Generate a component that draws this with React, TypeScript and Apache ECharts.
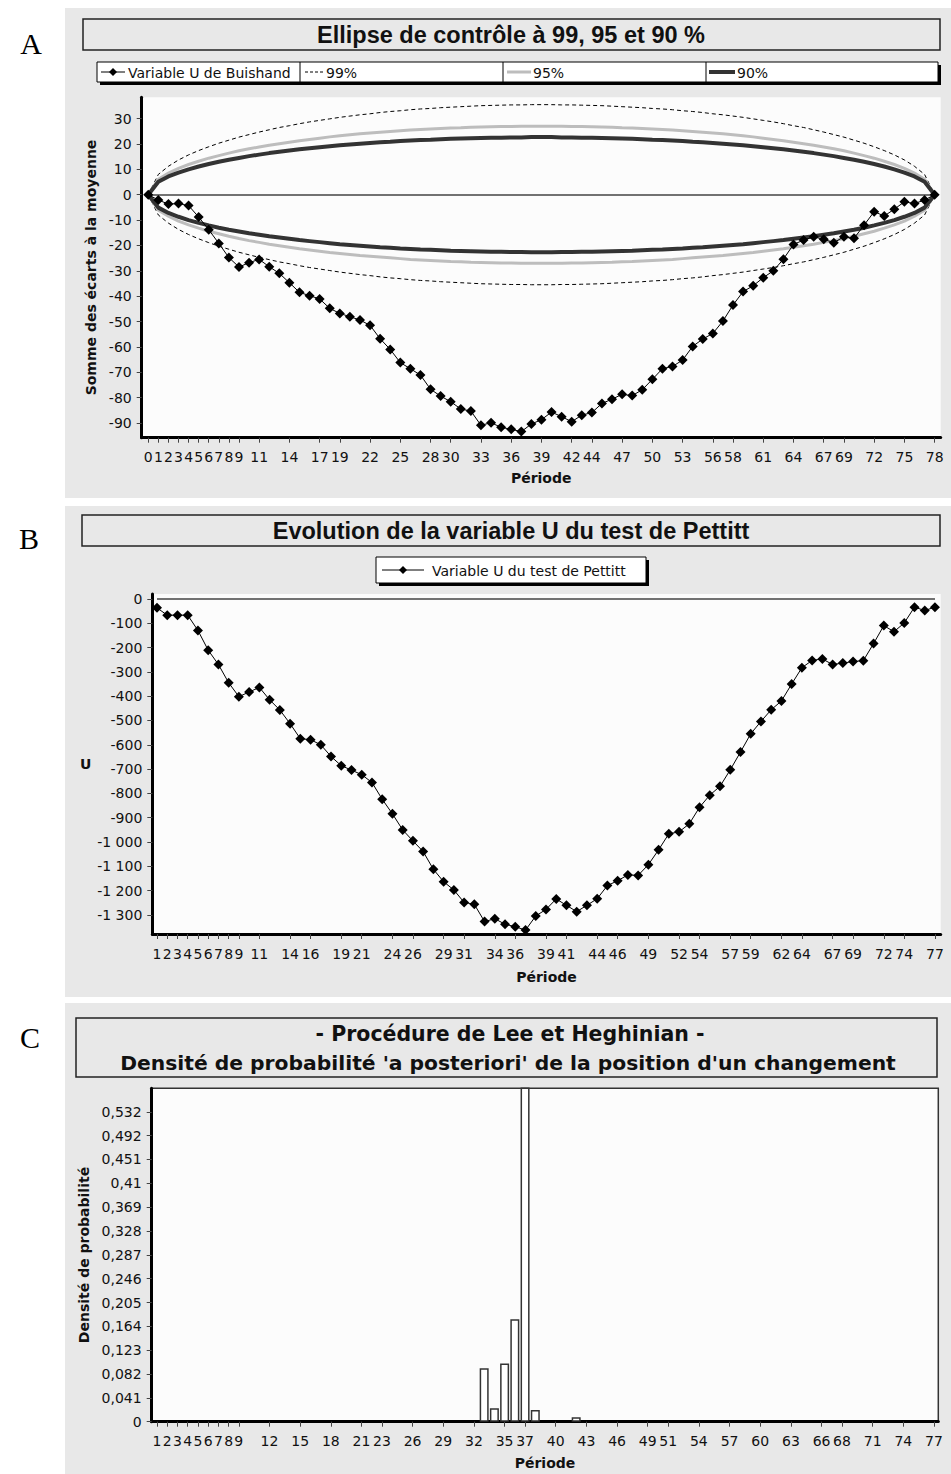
import React, { useEffect, useRef } from "react";
import * as echarts from "echarts";

// ---------- Panel A : Buishand ----------
const periodsA = [0,1,2,3,4,5,6,7,8,9,10,11,12,13,14,15,16,17,18,19,20,21,22,23,24,25,26,27,28,29,30,31,32,33,34,35,36,37,38,39,40,41,42,43,44,45,46,47,48,49,50,51,52,53,54,55,56,57,58,59,60,61,62,63,64,65,66,67,68,69,70,71,72,73,74,75,76,77,78];
const buishandU = [0,-2.1,-3.7,-3.5,-4.3,-8.8,-13.8,-19.2,-24.8,-28.5,-26.8,-25.5,-28.4,-31.0,-34.7,-38.5,-39.8,-41.1,-44.8,-46.8,-48.1,-49.4,-51.5,-56.8,-61.0,-66.2,-68.6,-71.1,-76.7,-79.4,-81.6,-84.5,-85.3,-90.9,-89.9,-91.7,-92.5,-93.4,-90.4,-88.7,-85.7,-87.5,-89.5,-86.9,-85.9,-82.3,-80.6,-78.7,-79.2,-76.9,-72.8,-68.6,-67.7,-65.2,-59.8,-56.9,-54.7,-49.8,-43.5,-38.2,-35.9,-32.7,-30.0,-25.4,-19.6,-17.9,-16.6,-17.6,-18.9,-16.6,-17.2,-12.0,-6.7,-8.4,-5.7,-2.8,-3.5,-2.1,0];
const ellipse99 = [0,8.0,11.2,13.7,15.7,17.4,18.9,20.3,21.5,22.7,23.7,24.7,25.6,26.5,27.2,28.0,28.7,29.3,29.9,30.5,31.0,31.5,31.9,32.4,32.8,33.1,33.5,33.8,34.0,34.3,34.5,34.7,34.9,35.1,35.2,35.3,35.4,35.4,35.5,35.5,35.5,35.4,35.4,35.3,35.2,35.1,34.9,34.7,34.5,34.3,34.0,33.8,33.5,33.1,32.8,32.4,31.9,31.5,31.0,30.5,29.9,29.3,28.7,28.0,27.2,26.5,25.6,24.7,23.7,22.7,21.5,20.3,18.9,17.4,15.7,13.7,11.2,8.0,0];
const ellipse95 = [0,6.1,8.5,10.4,11.9,13.2,14.4,15.4,16.4,17.3,18.1,18.8,19.5,20.1,20.7,21.3,21.8,22.3,22.8,23.2,23.6,24.0,24.3,24.6,24.9,25.2,25.5,25.7,25.9,26.1,26.3,26.4,26.6,26.7,26.8,26.9,26.9,27.0,27.0,27.0,27.0,27.0,26.9,26.9,26.8,26.7,26.6,26.4,26.3,26.1,25.9,25.7,25.5,25.2,24.9,24.6,24.3,24.0,23.6,23.2,22.8,22.3,21.8,21.3,20.7,20.1,19.5,18.8,18.1,17.3,16.4,15.4,14.4,13.2,11.9,10.4,8.5,6.1,0];
const ellipse90 = [0,5.1,7.2,8.7,10.0,11.1,12.1,13.0,13.8,14.5,15.2,15.8,16.4,16.9,17.4,17.9,18.3,18.7,19.1,19.5,19.8,20.1,20.4,20.7,20.9,21.2,21.4,21.6,21.7,21.9,22.1,22.2,22.3,22.4,22.5,22.5,22.6,22.6,22.7,22.7,22.7,22.6,22.6,22.5,22.5,22.4,22.3,22.2,22.1,21.9,21.7,21.6,21.4,21.2,20.9,20.7,20.4,20.1,19.8,19.5,19.1,18.7,18.3,17.9,17.4,16.9,16.4,15.8,15.2,14.5,13.8,13.0,12.1,11.1,10.0,8.7,7.2,5.1,0];
const ticksXA = [0,1,2,3,4,5,6,7,8,9,11,14,17,19,22,25,28,30,33,36,39,42,44,47,50,53,56,58,61,64,67,69,72,75,78];
const ticksYA = [-90,-80,-70,-60,-50,-40,-30,-20,-10,0,10,20,30];

// ---------- Panel B : Pettitt ----------
const periodsB = [1,2,3,4,5,6,7,8,9,10,11,12,13,14,15,16,17,18,19,20,21,22,23,24,25,26,27,28,29,30,31,32,33,34,35,36,37,38,39,40,41,42,43,44,45,46,47,48,49,50,51,52,53,54,55,56,57,58,59,60,61,62,63,64,65,66,67,68,69,70,71,72,73,74,75,76,77];
const pettittU = [-37,-67,-67,-67,-130,-211,-270,-345,-402,-383,-364,-415,-457,-513,-575,-579,-600,-648,-686,-704,-723,-755,-824,-884,-950,-995,-1039,-1112,-1163,-1197,-1248,-1256,-1327,-1315,-1338,-1348,-1362,-1304,-1277,-1234,-1260,-1286,-1260,-1233,-1179,-1159,-1135,-1137,-1093,-1032,-966,-958,-925,-857,-807,-771,-703,-630,-555,-504,-456,-420,-350,-283,-253,-247,-270,-264,-258,-254,-184,-110,-135,-99,-34,-48,-34];
const ticksXB = [1,2,3,4,5,6,7,8,9,11,14,16,19,21,24,26,29,31,34,36,39,41,44,46,49,52,54,57,59,62,64,67,69,72,74,77];
const ticksYB = [-1300,-1200,-1100,-1000,-900,-800,-700,-600,-500,-400,-300,-200,-100,0];

// ---------- Panel C : Lee & Heghinian ----------
const leePeriods = [33,34,35,36,37,38,42];
const leeDensity = [0.092,0.023,0.100,0.176,0.582,0.020,0.0075];
const ticksXC = [1,2,3,4,5,6,7,8,9,12,15,18,21,23,26,29,32,35,37,40,43,46,49,51,54,57,60,63,66,68,71,74,77];
const ticksYC = [0,0.041,0.082,0.123,0.164,0.205,0.246,0.287,0.328,0.369,0.41,0.451,0.492,0.532];

const FONT = "DejaVu Sans";
const TITLE_FONT = "Liberation Sans";
const fmtThousands = (v: number) => {
  const s = Math.abs(v).toString().replace(/\B(?=(\d{3})+(?!\d))/g, " ");
  return (v < 0 ? "-" : "") + s;
};

function pairs(xs: number[], ys: number[]) {
  return xs.map((x, i) => [x, ys[i]]);
}

const tickLabel = { fontFamily: FONT, fontSize: 14, color: "#111" };
const nameStyle = { fontFamily: FONT, fontSize: 14, fontWeight: "bold" as const, color: "#111" };

function xAxisBase(gridIndex: number, min: number, max: number, ticks: number[], gap: number, margin: number) {
  return {
    type: "value",
    gridIndex,
    min,
    max,
    name: "Période",
    nameLocation: "middle",
    nameGap: gap,
    nameTextStyle: nameStyle,
    splitLine: { show: false },
    axisLine: { show: true, onZero: false, lineStyle: { color: "#000", width: 3 } },
    axisTick: { show: true, length: 5, customValues: ticks, lineStyle: { color: "#444", width: 1 } },
    axisLabel: { ...tickLabel, margin, customValues: ticks, hideOverlap: false },
  };
}

function diamond(cx: number, cy: number, r: number) {
  return {
    type: "polygon",
    z: 12,
    shape: { points: [[cx, cy - r], [cx + r, cy], [cx, cy + r], [cx - r, cy]] },
    style: { fill: "#000" },
  };
}

export default function App() {
  const ref = useRef<HTMLDivElement>(null);
  useEffect(() => {
    if (!ref.current) return;
    const chart = echarts.init(ref.current, null, { renderer: "svg" });

    const legendText = { fontFamily: FONT, fontSize: 14, fill: "#111", verticalAlign: "middle" };

    const graphics: any[] = [
      // panel backgrounds
      { type: "rect", z: -5, shape: { x: 65, y: 8, width: 886, height: 490 }, style: { fill: "#e8e8e8" } },
      { type: "rect", z: -5, shape: { x: 65, y: 506, width: 886, height: 491 }, style: { fill: "#e8e8e8" } },
      { type: "rect", z: -5, shape: { x: 65, y: 1003, width: 886, height: 471 }, style: { fill: "#e8e8e8" } },
      // panel letters
      { type: "text", z: 10, x: 31, y: 43, style: { text: "A", fontFamily: "Liberation Serif", fontSize: 30, fill: "#000", align: "center", verticalAlign: "middle" } },
      { type: "text", z: 10, x: 29, y: 538, style: { text: "B", fontFamily: "Liberation Serif", fontSize: 30, fill: "#000", align: "center", verticalAlign: "middle" } },
      { type: "text", z: 10, x: 30, y: 1037, style: { text: "C", fontFamily: "Liberation Serif", fontSize: 30, fill: "#000", align: "center", verticalAlign: "middle" } },
      // title boxes
      { type: "rect", z: 10, shape: { x: 83, y: 19, width: 857, height: 31 }, style: { fill: "#e8e8e8", stroke: "#222", lineWidth: 1.5 } },
      { type: "text", z: 11, x: 511, y: 35, style: { text: "Ellipse de contrôle à 99, 95 et 90 %", fontFamily: TITLE_FONT, fontSize: 23.5, fontWeight: "bold", fill: "#111", align: "center", verticalAlign: "middle" } },
      { type: "rect", z: 10, shape: { x: 82, y: 515, width: 858, height: 31 }, style: { fill: "#e8e8e8", stroke: "#222", lineWidth: 1.5 } },
      { type: "text", z: 11, x: 511, y: 531, style: { text: "Evolution de la variable U du test de Pettitt", fontFamily: TITLE_FONT, fontSize: 23.5, fontWeight: "bold", fill: "#111", align: "center", verticalAlign: "middle" } },
      { type: "rect", z: 10, shape: { x: 76, y: 1018, width: 861, height: 59 }, style: { fill: "#e8e8e8", stroke: "#222", lineWidth: 1.5 } },
      { type: "text", z: 11, x: 510, y: 1034, style: { text: "- Procédure de Lee et Heghinian -", fontFamily: "DejaVu Sans", fontSize: 20.5, fontWeight: "bold", fill: "#111", align: "center", verticalAlign: "middle" } },
      { type: "text", z: 11, x: 508, y: 1063, style: { text: "Densité de probabilité 'a posteriori' de la position d'un changement", fontFamily: "DejaVu Sans", fontSize: 20.3, fontWeight: "bold", fill: "#111", align: "center", verticalAlign: "middle" } },
      // legend A
      { type: "rect", z: 10, shape: { x: 100, y: 65, width: 841, height: 20 }, style: { fill: "#000" } },
      { type: "rect", z: 11, shape: { x: 97, y: 62, width: 841, height: 20 }, style: { fill: "#fff", stroke: "#000", lineWidth: 1 } },
      { type: "line", z: 12, shape: { x1: 300, y1: 62, x2: 300, y2: 82 }, style: { stroke: "#000", lineWidth: 1 } },
      { type: "line", z: 12, shape: { x1: 503, y1: 62, x2: 503, y2: 82 }, style: { stroke: "#000", lineWidth: 1 } },
      { type: "line", z: 12, shape: { x1: 706, y1: 62, x2: 706, y2: 82 }, style: { stroke: "#000", lineWidth: 1 } },
      { type: "line", z: 12, shape: { x1: 101, y1: 72, x2: 125, y2: 72 }, style: { stroke: "#000", lineWidth: 1 } },
      diamond(113, 72, 4),
      { type: "text", z: 12, x: 128, y: 72.5, style: { text: "Variable U de Buishand", ...legendText } },
      { type: "line", z: 12, shape: { x1: 305, y1: 72, x2: 324, y2: 72 }, style: { stroke: "#000", lineWidth: 1, lineDash: [3, 2] } },
      { type: "text", z: 12, x: 326, y: 72.5, style: { text: "99%", ...legendText } },
      { type: "line", z: 12, shape: { x1: 507, y1: 72, x2: 531, y2: 72 }, style: { stroke: "#bdbdbd", lineWidth: 3 } },
      { type: "text", z: 12, x: 533, y: 72.5, style: { text: "95%", ...legendText } },
      { type: "line", z: 12, shape: { x1: 709, y1: 72, x2: 735, y2: 72 }, style: { stroke: "#333", lineWidth: 4 } },
      { type: "text", z: 12, x: 737, y: 72.5, style: { text: "90%", ...legendText } },
      // legend B
      { type: "rect", z: 10, shape: { x: 379, y: 560, width: 270, height: 26 }, style: { fill: "#000" } },
      { type: "rect", z: 11, shape: { x: 376, y: 557, width: 270, height: 26 }, style: { fill: "#fff", stroke: "#000", lineWidth: 1 } },
      { type: "line", z: 12, shape: { x1: 382, y1: 570, x2: 424, y2: 570 }, style: { stroke: "#000", lineWidth: 1 } },
      diamond(403, 570, 4),
      { type: "text", z: 12, x: 432, y: 570.5, style: { text: "Variable U du test de Pettitt", ...legendText } },
    ];

    const zeroLine = (x0: number, x1: number) => ({
      silent: true,
      symbol: "none",
      label: { show: false },
      lineStyle: { color: "#444", width: 1.5, type: "solid" },
      data: [[{ coord: [x0, 0] }, { coord: [x1, 0] }]],
    });

    const ellipseSeries = (name: string, vals: number[], sign: number, style: any) => ({
      name,
      type: "line",
      xAxisIndex: 0,
      yAxisIndex: 0,
      showSymbol: false,
      symbol: "none",
      smooth: false,
      lineStyle: style,
      data: pairs(periodsA, vals.map((v) => sign * v)),
      z: 2,
    });

    const s99 = { color: "#000", width: 1, type: [4, 3] };
    const s95 = { color: "#bdbdbd", width: 3 };
    const s90 = { color: "#333", width: 4 };

    const option: any = {
      animation: false,
      backgroundColor: "#fff",
      graphic: graphics,
      grid: [
        { left: 141.7, top: 97.3, width: 799, height: 340.4, show: true, backgroundColor: "#fcfcfc", borderWidth: 0 },
        { left: 152.3, top: 594, width: 788.4, height: 340, show: true, backgroundColor: "#fcfcfc", borderWidth: 0 },
        { left: 151.7, top: 1088.3, width: 786.6, height: 333.4, show: true, backgroundColor: "#fcfcfc", borderColor: "#333", borderWidth: 1.5 },
      ],
      xAxis: [
        xAxisBase(0, -0.65, 78.6, ticksXA, 33, 12),
        xAxisBase(1, 0.54, 77.56, ticksXB, 36, 13),
        xAxisBase(2, 0.48, 77.42, ticksXC, 34, 12),
      ],
      yAxis: [
        {
          type: "value", gridIndex: 0, min: -95.8, max: 38.4,
          name: "Somme des écarts à la moyenne", nameLocation: "middle", nameRotate: 90, nameGap: 38, nameTextStyle: nameStyle,
          splitLine: { show: false },
          axisLine: { show: true, onZero: false, lineStyle: { color: "#000", width: 3 } },
          axisTick: { show: true, length: 5, customValues: ticksYA, lineStyle: { color: "#444", width: 1 } },
          axisLabel: { ...tickLabel, margin: 10, customValues: ticksYA },
        },
        {
          type: "value", gridIndex: 1, min: -1378, max: 20,
          name: "U", nameLocation: "middle", nameRotate: 0, nameGap: 61, nameTextStyle: nameStyle,
          splitLine: { show: false },
          axisLine: { show: true, onZero: false, lineStyle: { color: "#000", width: 3 } },
          axisTick: { show: true, length: 5, customValues: ticksYB, lineStyle: { color: "#444", width: 1 } },
          axisLabel: { ...tickLabel, margin: 10, customValues: ticksYB, formatter: (v: number) => fmtThousands(v) },
        },
        {
          type: "value", gridIndex: 2, min: 0, max: 0.5734,
          name: "Densité de probabilité", nameLocation: "middle", nameRotate: 90, nameGap: 57, nameTextStyle: nameStyle,
          splitLine: { show: false },
          axisLine: { show: true, onZero: false, lineStyle: { color: "#000", width: 3 } },
          axisTick: { show: true, length: 5, customValues: ticksYC, lineStyle: { color: "#444", width: 1 } },
          axisLabel: { ...tickLabel, margin: 10, customValues: ticksYC, formatter: (v: number) => String(v).replace(".", ",") },
        },
      ],
      series: [
        ellipseSeries("99%", ellipse99, 1, s99),
        ellipseSeries("99% inf", ellipse99, -1, s99),
        ellipseSeries("95%", ellipse95, 1, s95),
        ellipseSeries("95% inf", ellipse95, -1, s95),
        ellipseSeries("90%", ellipse90, 1, s90),
        ellipseSeries("90% inf", ellipse90, -1, s90),
        {
          name: "Variable U de Buishand",
          type: "line",
          xAxisIndex: 0,
          yAxisIndex: 0,
          symbol: "diamond",
          symbolSize: 10,
          itemStyle: { color: "#000" },
          lineStyle: { color: "#000", width: 1 },
          data: pairs(periodsA, buishandU),
          markLine: zeroLine(periodsA[0], periodsA[periodsA.length - 1]),
          z: 5,
        },
        {
          name: "Variable U du test de Pettitt",
          type: "line",
          xAxisIndex: 1,
          yAxisIndex: 1,
          symbol: "diamond",
          symbolSize: 10,
          itemStyle: { color: "#000" },
          lineStyle: { color: "#000", width: 1 },
          data: pairs(periodsB, pettittU),
          markLine: zeroLine(periodsB[0], periodsB[periodsB.length - 1]),
          z: 5,
        },
        {
          name: "Densité de probabilité",
          type: "bar",
          xAxisIndex: 2,
          yAxisIndex: 2,
          barWidth: 9,
          clip: true,
          itemStyle: { color: "#fff", borderColor: "#333", borderWidth: 1.5 },
          data: pairs(leePeriods, leeDensity),
        },
      ],
    };
    chart.setOption(option);
    return () => chart.dispose();
  }, []);

  return (
    <div
      ref={ref}
      style={{ position: "absolute", left: 0, top: 0, width: 951, height: 1474 }}
    />
  );
}
